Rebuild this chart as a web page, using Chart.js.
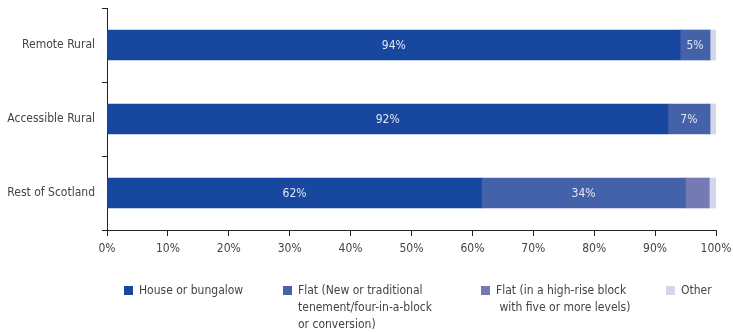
<!DOCTYPE html>
<html>
<head>
<meta charset="utf-8">
<script src="https://cdn.jsdelivr.net/npm/chart.js@4"></script>
<style>
  html, body { margin: 0; padding: 0; background: #fff; }
  #wrap { position: relative; width: 733px; height: 332px; }
  #legend { position: absolute; left: 0; top: 282px; width: 733px; height: 50px;
    font-family: 'Liberation Sans Narrow', 'DejaVu Sans Condensed', sans-serif;
    font-size: 12px; color: #444; line-height: 17px; }
  .item { position: absolute; top: 0; }
  .box { position: absolute; left: 0; top: 4px; width: 9px; height: 9px; }
  .txt { position: absolute; left: 15px; top: 0; white-space: pre; }
</style>
</head>
<body>
<div id="wrap">
  <canvas id="chart" width="733" height="332"></canvas>
  <div id="legend"></div>
</div>
<script>
// categories and series
const regions = ['Remote Rural', 'Accessible Rural', 'Rest of Scotland'];
const seriesNames = [
  'House or bungalow',
  'Flat (New or traditional\ntenement/four-in-a-block\nor conversion)',
  'Flat (in a high-rise block\n with five or more levels)',
  'Other'
];
const house = [94.1, 92.1, 61.5];
const flat = [4.9, 6.9, 33.5];
const highRise = [0, 0, 3.9];
const other = [1.0, 1.0, 1.1];
const xTicks = [0, 10, 20, 30, 40, 50, 60, 70, 80, 90, 100];

const colors = ['#17479e', '#4462a9', '#7579b4', '#d4d6eb'];
const legendLeft = [124, 283, 481, 666];
const font = "'Liberation Sans Narrow', 'DejaVu Sans Condensed', sans-serif";

const values = [house, flat, highRise, other];

// percentage labels inside the bars
const barLabels = {
  id: 'barLabels',
  afterDatasetsDraw(chart) {
    const ctx = chart.ctx;
    ctx.save();
    ctx.font = '12px ' + font;
    ctx.fillStyle = '#e4e6f2';
    ctx.textAlign = 'center';
    ctx.textBaseline = 'middle';
    chart.data.datasets.forEach((ds, i) => {
      chart.getDatasetMeta(i).data.forEach((bar, j) => {
        const v = ds.data[j];
        if (v < 4.5) return;
        ctx.fillText(Math.round(v) + '%', (bar.x + bar.base) / 2, bar.y + 1);
      });
    });
    ctx.restore();
  }
};

new Chart(document.getElementById('chart'), {
  type: 'bar',
  data: {
    labels: regions,
    datasets: values.map((d, i) => ({
      label: seriesNames[i],
      data: d,
      backgroundColor: colors[i],
      borderWidth: 0,
      barThickness: 30
    }))
  },
  options: {
    indexAxis: 'y',
    responsive: false,
    animation: false,
    layout: { padding: { top: 8, right: 17, bottom: 72, left: 0 } },
    plugins: { legend: { display: false }, tooltip: { enabled: false } },
    scales: {
      x: {
        stacked: true,
        min: 0,
        max: 100,
        afterBuildTicks: s => { s.ticks = xTicks.map(v => ({ value: v })); },
        afterFit: s => { s.height = 30; s.paddingLeft = 0; s.paddingRight = 0; },
        border: { color: '#222', width: 1 },
        grid: { drawOnChartArea: false, drawTicks: true, tickLength: 6, color: '#222' },
        ticks: {
          color: '#444',
          padding: 6,
          maxRotation: 0,
          font: { family: font, size: 12 },
          callback: v => v + '%'
        }
      },
      y: {
        stacked: true,
        afterFit: s => { s.width = 107; s.paddingTop = 0; s.paddingBottom = 0; },
        border: { color: '#222', width: 1 },
        grid: { offset: true, drawOnChartArea: false, drawTicks: true, tickLength: 5, color: '#222' },
        ticks: {
          color: '#444',
          padding: 7,
          font: { family: font, size: 12 }
        }
      }
    }
  },
  plugins: [barLabels]
});

// legend
const legend = document.getElementById('legend');
seriesNames.forEach((name, i) => {
  const item = document.createElement('div');
  item.className = 'item';
  item.style.left = legendLeft[i] + 'px';
  const box = document.createElement('div');
  box.className = 'box';
  box.style.background = colors[i];
  const txt = document.createElement('div');
  txt.className = 'txt';
  txt.textContent = name;
  item.appendChild(box);
  item.appendChild(txt);
  legend.appendChild(item);
});
</script>
</body>
</html>
